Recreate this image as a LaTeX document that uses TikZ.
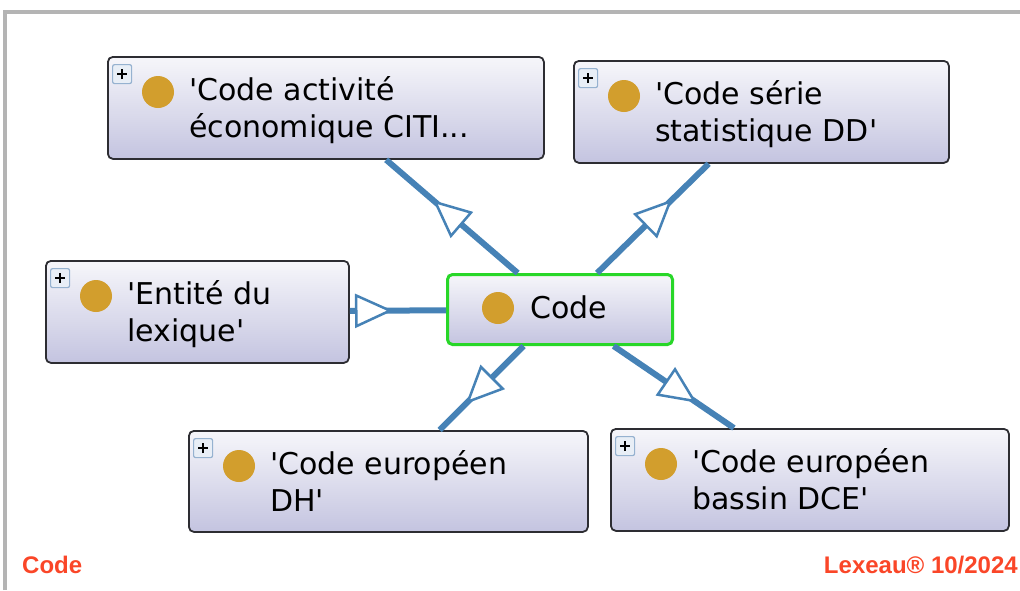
\documentclass[tikz,border=0pt]{standalone}
\usepackage{fontspec}
\setmainfont{DejaVu Sans}[Ligatures=TeXOff]
\newfontfamily\footfont{Liberation Sans}
\usetikzlibrary{arrows.meta,decorations.markings}
\definecolor{boxtop}{RGB}{246,246,250}
\definecolor{boxbot}{RGB}{196,196,224}
\definecolor{boxborder}{RGB}{45,45,50}
\definecolor{codegreen}{RGB}{40,215,40}
\definecolor{edgeblue}{RGB}{70,130,182}
\definecolor{gold}{RGB}{210,158,45}
\definecolor{plusborder}{RGB}{150,178,208}
\definecolor{plusfill}{RGB}{232,238,246}
\definecolor{footred}{RGB}{250,70,40}
\definecolor{framegray}{RGB}{180,180,180}
\tikzset{
  x=1pt, y=-1pt,
  boxshape/.style={draw=boxborder, line width=1.8pt, rounded corners=5pt,
    top color=boxtop, bottom color=boxbot, inner sep=0pt, anchor=north west},
  codeshape/.style={boxshape, draw=codegreen, line width=3pt},
  plusicon/.style={draw=plusborder, fill=plusfill, line width=1.2pt, rounded corners=2pt,
    minimum size=19pt, inner sep=0pt, anchor=north west},
  plusline/.style={line width=1.8pt, black},
  golddot/.style={circle, fill=gold, minimum size=32pt, inner sep=0pt},
  label/.style={anchor=base west, inner sep=0pt, font=\fontsize{30}{37}\selectfont},
  footer/.style={inner sep=0pt, text=footred, font=\footfont\bfseries\fontsize{24}{28}\selectfont},
  edge/.style={draw=edgeblue, line width=6pt},
  opentri/.tip={Triangle[length=38pt,width=34pt,fill=white,line width=2.5pt]},
}
\newcommand{\lexbox}[7]{%
  \node[boxshape, minimum width=#4, minimum height=#5] (#1) at (#2,#3) {};
  \node[plusicon] (#1-plus) at ({#2+5},{#3+8}) {};
  \draw[plusline] ([xshift=-5pt]#1-plus.center) -- ([xshift=5pt]#1-plus.center);
  \draw[plusline] ([yshift=-5pt]#1-plus.center) -- ([yshift=5pt]#1-plus.center);
  \node[golddot] (#1-dot) at ({#2+51},{#3+36}) {};
  \node[label] (#1-l1) at ({#2+82},{#3+44}) {#6};
  \node[label] (#1-l2) at ({#2+82},{#3+81}) {#7};
}
\newcommand{\markedge}[3]{%
  \draw[edge, postaction={decorate, decoration={markings,
    mark=at position #3 with {\arrow{opentri}}}}] (#1) -- (#2);
}
\begin{document}
\begin{tikzpicture}
\useasboundingbox (0,0) rectangle (1020,590);
\draw[framegray, line width=4pt] (5,590) -- (5,11.5) -- (1020,11.5);

\lexbox{citi}{107}{56}{436}{102}{'Code activité}{économique CITI...}
\lexbox{serie}{573}{60}{375}{102}{'Code série}{statistique DD'}
\lexbox{entite}{45}{260}{303}{102}{'Entité du}{lexique'}
\lexbox{dh}{188}{430}{399}{101}{'Code européen}{DH'}
\lexbox{dce}{610}{428}{398}{102}{'Code européen}{bassin DCE'}

\node[codeshape, minimum width=225pt, minimum height=70pt] (code) at (446,273) {};
\node[golddot] (code-dot) at (498,308) {};
\node[label] (code-l1) at (530,318) {Code};

\markedge{code}{citi}{-62pt}
\markedge{code}{serie}{-51pt}
\markedge{entite}{code}{-53pt}
\markedge{code}{dh}{-37pt}
\markedge{code}{dce}{-45pt}

\node[footer, anchor=base west] (foot-l) at (22,573) {Code};
\node[footer, anchor=base east] (foot-r) at (1018,573) {Lexeau® 10/2024};
\end{tikzpicture}
\end{document}
